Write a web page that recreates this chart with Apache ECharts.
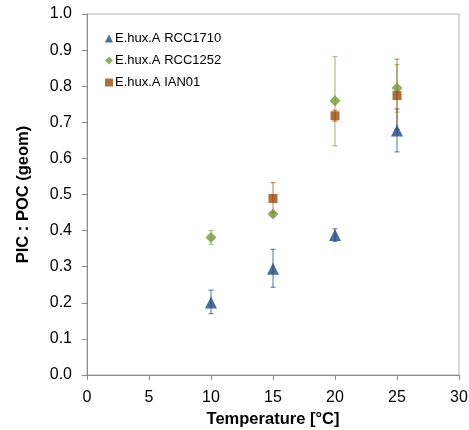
<!DOCTYPE html>
<html>
<head>
<meta charset="utf-8">
<script src="https://cdn.jsdelivr.net/npm/echarts@6/dist/echarts.min.js"></script>
<style>
  html, body { margin: 0; padding: 0; background: #fff; }
  #chart { width: 469px; height: 430px; }
</style>
</head>
<body>
<div id="chart"></div>
<script>
// temperatures [°C]
var TEMPS_1710 = [10, 15, 20, 25];
var MEAN_1710 = [0.201, 0.294, 0.388, 0.677];
var LOW_1710 = [0.170, 0.243, 0.370, 0.618];
var HIGH_1710 = [0.235, 0.348, 0.405, 0.737];

var TEMPS_1252 = [10, 15, 20, 25];
var MEAN_1252 = [0.381, 0.446, 0.760, 0.795];
var LOW_1252 = [0.362, 0.440, 0.635, 0.728];
var HIGH_1252 = [0.400, 0.452, 0.882, 0.860];

var TEMPS_IAN = [15, 20, 25];
var MEAN_IAN = [0.489, 0.718, 0.774];
var LOW_IAN = [0.448, 0.703, 0.680];
var HIGH_IAN = [0.533, 0.733, 0.875];

var X_TICKS = [0, 5, 10, 15, 20, 25, 30];
var Y_TICKS = [0, 0.1, 0.2, 0.3, 0.4, 0.5, 0.6, 0.7, 0.8, 0.9, 1.0];

function pts(xs, ys) {
  var out = [];
  for (var i = 0; i < xs.length; i++) out.push([xs[i], ys[i]]);
  return out;
}
function errs(xs, lo, hi) {
  var out = [];
  for (var i = 0; i < xs.length; i++) out.push([xs[i], lo[i], hi[i]]);
  return out;
}

// vertical error bar with small caps
function errorBar(color) {
  return function (params, api) {
    var top = api.coord([api.value(0), api.value(2)]);
    var bot = api.coord([api.value(0), api.value(1)]);
    var cap = 2.5;
    var style = { stroke: color, lineWidth: 1.3 };
    return {
      type: 'group',
      children: [
        { type: 'line', shape: { x1: top[0], y1: top[1], x2: bot[0], y2: bot[1] }, style: style },
        { type: 'line', shape: { x1: top[0] - cap, y1: top[1], x2: top[0] + cap, y2: top[1] }, style: style },
        { type: 'line', shape: { x1: bot[0] - cap, y1: bot[1], x2: bot[0] + cap, y2: bot[1] }, style: style }
      ]
    };
  };
}

var BLUE = '#22497f';
var GREEN = '#7a963c';
var ORANGE = '#9c4a0c';

var chart = echarts.init(document.getElementById('chart'));
var axisColor = '#8c8c8c';
var font = 'Liberation Sans, Arial, sans-serif';

chart.setOption({
  backgroundColor: '#ffffff',
  animation: false,
  grid: { left: 87, right: 10, top: 14, bottom: 55, outerBoundsMode: 'none', show: true, borderColor: '#b0b0b0', borderWidth: 1 },
  legend: {
    orient: 'vertical',
    left: 100,
    top: 27,
    itemWidth: 8,
    itemHeight: 8,
    itemGap: 9,
    textStyle: { fontFamily: font, fontSize: 13, color: '#000', padding: [0, 0, 0, -3] },
    data: [
      { name: 'E.hux.A RCC1710', icon: 'triangle' },
      { name: 'E.hux.A RCC1252', icon: 'diamond' },
      { name: 'E.hux.A IAN01', icon: 'rect' }
    ]
  },
  xAxis: {
    type: 'value',
    min: 0, max: 30, interval: 5,
    name: 'Temperature [°C]',
    nameLocation: 'middle',
    nameGap: 35,
    nameTextStyle: { fontFamily: font, fontSize: 16.5, fontWeight: 'bold', color: '#000' },
    axisLine: { show: true, lineStyle: { color: axisColor } },
    axisTick: { show: true, length: 5, inside: false, lineStyle: { color: axisColor } },
    axisLabel: { fontFamily: font, fontSize: 16, color: '#000', margin: 15,
      formatter: function (v) { return X_TICKS.indexOf(v) >= 0 ? String(v) : ''; } },
    splitLine: { show: false }
  },
  yAxis: {
    type: 'value',
    min: 0, max: 1, interval: 0.1,
    name: 'PIC : POC (geom)',
    nameLocation: 'middle',
    nameGap: 55,
    nameTextStyle: { fontFamily: font, fontSize: 16.5, fontWeight: 'bold', color: '#000' },
    axisLine: { show: true, lineStyle: { color: axisColor } },
    axisTick: { show: true, length: 5, lineStyle: { color: axisColor } },
    axisLabel: { fontFamily: font, fontSize: 16, color: '#000', margin: 15,
      formatter: function (v) {
        var t = Math.round(v * 10) / 10;
        return Y_TICKS.indexOf(t) >= 0 ? t.toFixed(1) : '';
      } },
    splitLine: { show: false }
  },
  series: [
    { type: 'custom', name: 'err1710', renderItem: errorBar('rgba(34,73,127,0.6)'), data: errs(TEMPS_1710, LOW_1710, HIGH_1710), z: 1, silent: true },
    { type: 'custom', name: 'err1252', renderItem: errorBar('rgba(122,150,60,0.55)'), data: errs(TEMPS_1252, LOW_1252, HIGH_1252), z: 1, silent: true },
    { type: 'custom', name: 'errIAN', renderItem: errorBar('rgba(156,74,12,0.55)'), data: errs(TEMPS_IAN, LOW_IAN, HIGH_IAN), z: 1, silent: true },
    { type: 'scatter', name: 'E.hux.A RCC1710', symbol: 'triangle', symbolSize: 12, itemStyle: { color: BLUE }, data: pts(TEMPS_1710, MEAN_1710), z: 3 },
    { type: 'scatter', name: 'E.hux.A RCC1252', symbol: 'diamond', symbolSize: 11, itemStyle: { color: GREEN }, data: pts(TEMPS_1252, MEAN_1252), z: 3 },
    { type: 'scatter', name: 'E.hux.A IAN01', symbol: 'rect', symbolSize: 9, itemStyle: { color: ORANGE }, data: pts(TEMPS_IAN, MEAN_IAN), z: 4 }
  ]
});
</script>
</body>
</html>
